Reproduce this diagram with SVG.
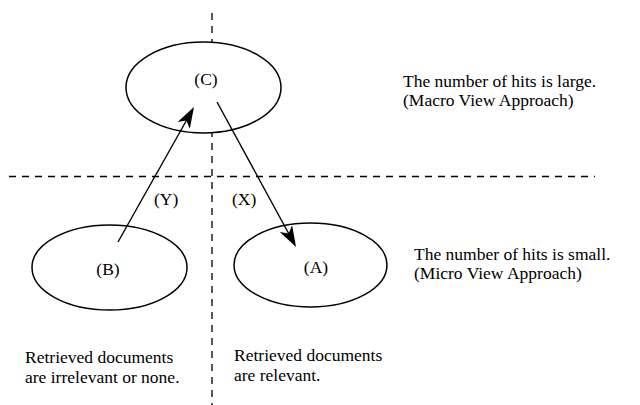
<svg xmlns="http://www.w3.org/2000/svg" width="640" height="405" viewBox="0 0 640 405">
  <style>
    .bg { fill: #ffffff; }
    .guide { stroke: #000; stroke-width: 1.3; stroke-dasharray: 7 6; fill: none; }
    .node { fill: #ffffff; stroke: #000; stroke-width: 1.5; }
    .edge { stroke: #000; stroke-width: 1.4; fill: none; marker-end: url(#head); }
    text { font-family: "Liberation Serif", "Times New Roman", serif; font-size: 17.5px; fill: #000; }
    .mid { text-anchor: middle; }
  </style>
  <defs>
    <marker id="head" markerUnits="userSpaceOnUse" markerWidth="24" markerHeight="18" viewBox="0 -9 24 18" refX="9" refY="0" orient="auto">
      <path d="M21,0 L0,-7 L5.5,0 L0,7 z" fill="#000"/>
    </marker>
  </defs>

  <rect class="bg" x="0" y="0" width="640" height="405"/>

  <!-- quadrant guides -->
  <g id="guides">
    <line class="guide" x1="212" y1="13" x2="212" y2="405"/>
    <line class="guide" x1="9" y1="176.5" x2="595" y2="176.5"/>
  </g>

  <g id="node-C">
    <ellipse class="node" cx="203.5" cy="87.5" rx="77.5" ry="45.5"/>
    <text class="mid" x="206" y="85">(C)</text>
  </g>

  <g id="node-B">
    <ellipse class="node" cx="109.5" cy="267.5" rx="77.5" ry="42.5"/>
    <text class="mid" x="108" y="275">(B)</text>
  </g>

  <g id="node-A">
    <ellipse class="node" cx="310.5" cy="265" rx="76.5" ry="42"/>
    <text class="mid" x="316" y="273">(A)</text>
  </g>

  <g id="connectors">
    <line class="edge" x1="118" y1="242" x2="188.1" y2="117.5"/>
    <line class="edge" x1="217" y1="102" x2="290.3" y2="236.5"/>
    <text x="154" y="205">(Y)</text>
    <text x="232" y="205">(X)</text>
  </g>

  <g id="notes">
    <text x="403" y="87">The number of hits is large.</text>
    <text x="403" y="106">(Macro View Approach)</text>
    <text x="414" y="260">The number of hits is small.</text>
    <text x="414" y="279">(Micro View Approach)</text>
    <text x="25" y="363">Retrieved documents</text>
    <text x="25" y="383">are irrelevant or none.</text>
    <text x="234" y="361">Retrieved documents</text>
    <text x="234" y="381">are relevant.</text>
  </g>
</svg>
